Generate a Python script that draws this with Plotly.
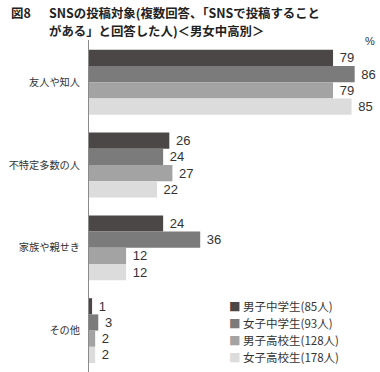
import plotly.graph_objects as go

categories = ["友人や知人", "不特定多数の人", "家族や親せき", "その他"]
series_names = ["男子中学生(85人)", "女子中学生(93人)", "男子高校生(128人)", "女子高校生(178人)"]
values = {
    "男子中学生(85人)": [79, 26, 24, 1],
    "女子中学生(93人)": [86, 24, 36, 3],
    "男子高校生(128人)": [79, 27, 12, 2],
    "女子高校生(178人)": [85, 22, 12, 2],
}
colors = ["#4b4747", "#7b7b7b", "#a3a3a3", "#dcdcdc"]

FONT = "Noto Sans CJK JP"
fig = go.Figure()
for name, col in zip(series_names, colors):
    v = values[name]
    fig.add_trace(go.Bar(
        y=categories, x=v, name=name, orientation="h",
        marker=dict(color=col, line=dict(width=0)),
        text=[f" {t}" for t in v], textposition="outside",
        textfont=dict(size=13, color="#333333", family="Liberation Sans, Arial"),
        cliponaxis=False, showlegend=False,
    ))

fig.update_layout(
    width=380, height=372,
    margin=dict(l=89, r=0, t=40, b=0, autoexpand=False),
    paper_bgcolor="white", plot_bgcolor="white",
    barmode="group", bargap=0.217, bargroupgap=0,
    font=dict(family=FONT, size=11, color="#333333"),
    xaxis=dict(range=[0, 94.2], showgrid=False, zeroline=False, automargin=False,
               showticklabels=False, showline=False, fixedrange=True),
    yaxis=dict(range=[3.5, -0.51], showgrid=False, zeroline=False, automargin=False,
               showline=True, linecolor="#8a8a8a", linewidth=1,
               ticks="", ticklabelstandoff=6,
               tickfont=dict(size=10.2, color="#333333", family=FONT)),
)

# Title
TS = 12.4
fig.add_annotation(xref="paper", yref="paper", x=(9 - 89)/291, y=1 + 27.5/332,
                   xanchor="left", yanchor="middle", showarrow=False,
                   text="<b>図8</b>", font=dict(size=TS, color="#222222", family=FONT))
fig.add_annotation(xref="paper", yref="paper", x=(47 - 89)/291, y=1 + 27.5/332,
                   xanchor="left", yanchor="middle", showarrow=False,
                   text="<b>SNSの投稿対象(複数回答、「SNSで投稿すること</b>",
                   font=dict(size=TS, color="#222222", family=FONT))
fig.add_annotation(xref="paper", yref="paper", x=(47 - 89)/291, y=1 + 8.5/332,
                   xanchor="left", yanchor="middle", showarrow=False,
                   text="<b>がある」と回答した人)＜男女中高別＞</b>",
                   font=dict(size=TS, color="#222222", family=FONT))
# percent unit
fig.add_annotation(xref="paper", yref="paper", x=1 - 10/291, y=1 - 1/332,
                   xanchor="center", yanchor="middle", showarrow=False,
                   text="%", font=dict(size=11, color="#333333", family="Liberation Sans, Arial"))

# legend as annotations
leg_y = [306, 323, 340, 357]
for name, col, yy in zip(series_names, colors, leg_y):
    fig.add_annotation(xref="paper", yref="paper", x=(227 - 89)/291, y=(372 - yy)/332,
                       xanchor="left", yanchor="middle", showarrow=False,
                       text=f"<span style='color:{col}'>■</span> {name}",
                       font=dict(size=11.5, color="#333333", family=FONT))

fig.write_html("out.html", config={"displayModeBar": False},
               post_script="document.body.style.margin='0';document.body.style.overflow='hidden';")
